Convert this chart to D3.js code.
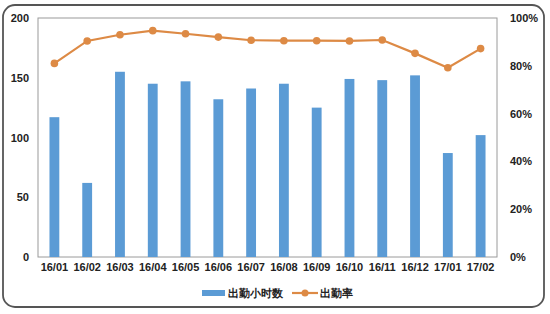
<!DOCTYPE html>
<html>
<head>
<meta charset="utf-8">
<script src="https://cdn.jsdelivr.net/npm/d3@7"></script>
<style>
  body { margin: 0; background: #fff; }
  text { font-family: "Liberation Sans", Arial, sans-serif; }
</style>
</head>
<body>
<div id="vis"></div>
<script>
// chart data
const months = ['16/01', '16/02', '16/03', '16/04', '16/05', '16/06', '16/07',
  '16/08', '16/09', '16/10', '16/11', '16/12', '17/01', '17/02']
const hours = [117, 62, 155, 145, 147, 132, 141, 145, 125, 149, 148, 152, 87, 102]
const rate = [81, 90.4, 93, 94.7, 93.4, 92, 90.7, 90.5, 90.5, 90.4, 90.8, 85.2, 79.2, 87.2]
const leftTicks = [0, 50, 100, 150, 200]
const rightTicks = [0, 20, 40, 60, 80, 100]

const W = 550, H = 314
const plot = { left: 38, right: 497, top: 18, bottom: 257 }
const barColor = '#5b9bd5'
const lineColor = '#dd8a45'

const svg = d3.select('#vis').append('svg')
  .attr('width', W).attr('height', H)

// outer rounded frame
svg.append('rect')
  .attr('x', 3).attr('y', 5).attr('width', 541).attr('height', 302)
  .attr('rx', 12)
  .attr('fill', '#fff').attr('stroke', '#555').attr('stroke-width', 1.8)

// plot area
svg.append('rect')
  .attr('x', plot.left).attr('y', plot.top)
  .attr('width', plot.right - plot.left).attr('height', plot.bottom - plot.top)
  .attr('fill', '#fff').attr('stroke', '#9a9a9a').attr('stroke-width', 1)

const x = d3.scaleBand().domain(months).range([plot.left, plot.right]).paddingInner(0.7).paddingOuter(0.35)
const yL = d3.scaleLinear().domain([0, 200]).range([plot.bottom, plot.top])
const yR = d3.scaleLinear().domain([0, 100]).range([plot.bottom, plot.top])

// bars
svg.selectAll('.bar')
  .data(months)
  .join('rect')
  .attr('class', 'bar')
  .attr('x', d => x(d))
  .attr('width', x.bandwidth())
  .attr('y', (d, i) => yL(hours[i]))
  .attr('height', (d, i) => plot.bottom - yL(hours[i]))
  .attr('fill', barColor)

// line
const cx = d => x(d) + x.bandwidth() / 2
const line = d3.line()
  .x(d => cx(d))
  .y((d, i) => yR(rate[i]))
svg.append('path')
  .datum(months)
  .attr('d', line)
  .attr('fill', 'none')
  .attr('stroke', lineColor)
  .attr('stroke-width', 2.2)

svg.selectAll('.dot')
  .data(months)
  .join('circle')
  .attr('class', 'dot')
  .attr('cx', d => cx(d))
  .attr('cy', (d, i) => yR(rate[i]))
  .attr('r', 3.8)
  .attr('fill', lineColor)

// axes
const leftAxis = svg.append('g')
  .attr('transform', `translate(${plot.left},0)`)
  .call(d3.axisLeft(yL).tickValues(leftTicks).tickSize(0).tickPadding(9))
const rightAxis = svg.append('g')
  .attr('transform', `translate(${plot.right},0)`)
  .call(d3.axisRight(yR).tickValues(rightTicks).tickSize(0).tickPadding(13).tickFormat(d => d + '%'))
const bottomAxis = svg.append('g')
  .attr('transform', `translate(0,${plot.bottom})`)
  .call(d3.axisBottom(x).tickSize(0).tickPadding(6))

;[leftAxis, rightAxis, bottomAxis].forEach(g => {
  g.select('.domain').remove()
  g.selectAll('text')
    .attr('font-family', '"Liberation Sans", Arial, sans-serif')
    .attr('font-size', 11)
    .attr('font-weight', 'bold')
    .attr('fill', '#222')
})

// legend
const ly = 293
svg.append('rect')
  .attr('x', 202).attr('y', ly - 3).attr('width', 23).attr('height', 6)
  .attr('fill', barColor)
svg.append('text')
  .attr('x', 228).attr('y', ly + 4)
  .attr('font-family', '"Noto Sans CJK SC", sans-serif')
  .attr('font-size', 11).attr('font-weight', 'bold').attr('fill', '#222')
  .text('出勤小时数')
svg.append('line')
  .attr('x1', 292).attr('x2', 318).attr('y1', ly).attr('y2', ly)
  .attr('stroke', lineColor).attr('stroke-width', 2.2)
svg.append('circle')
  .attr('cx', 305).attr('cy', ly).attr('r', 3.5).attr('fill', lineColor)
svg.append('text')
  .attr('x', 320).attr('y', ly + 4)
  .attr('font-family', '"Noto Sans CJK SC", sans-serif')
  .attr('font-size', 11).attr('font-weight', 'bold').attr('fill', '#222')
  .text('出勤率')
</script>
</body>
</html>
